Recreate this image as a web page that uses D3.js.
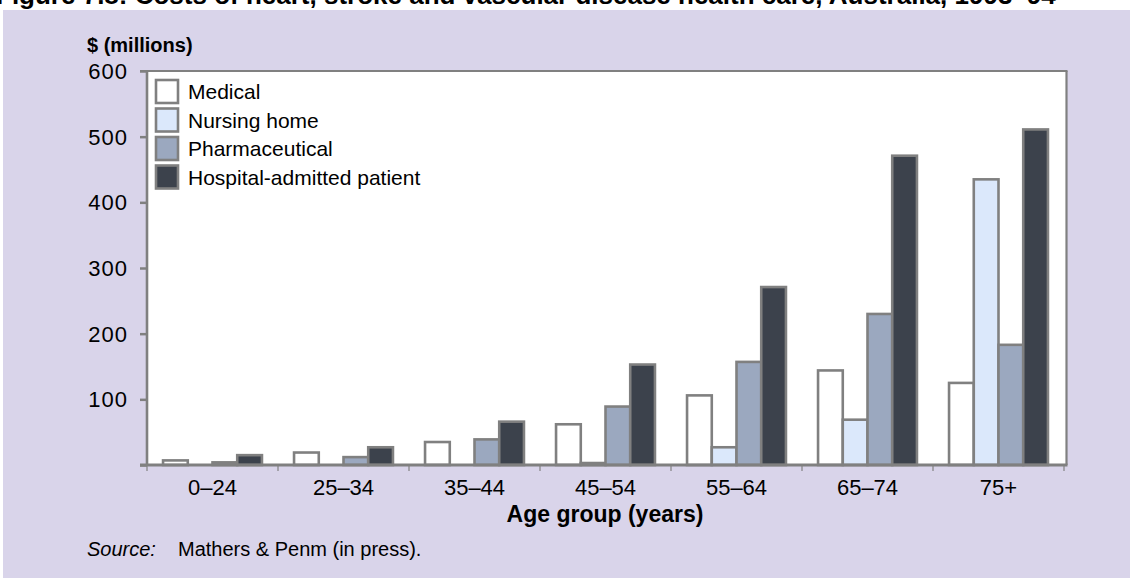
<!DOCTYPE html>
<html>
<head>
<meta charset="utf-8">
<script src="https://cdn.jsdelivr.net/npm/d3@7/dist/d3.min.js"></script>
<style>
  html, body { margin: 0; padding: 0; background: #ffffff; }
  svg { display: block; }
  text { font-family: "Liberation Sans", Arial, Helvetica, sans-serif; fill: #000; }
</style>
</head>
<body>
<svg id="chart" width="1130" height="578"></svg>
<script>
const categories = ["0–24", "25–34", "35–44", "45–54", "55–64", "65–74", "75+"];
const seriesNames = ["Medical", "Nursing home", "Pharmaceutical", "Hospital-admitted patient"];
const medical  = [7, 19, 35, 62, 106, 144, 125];
const nursing  = [0, 0, 0, 3, 27, 69, 435];
const pharma   = [4, 12, 39, 89, 157, 230, 183];
const hospital = [15, 27, 66, 153, 271, 471, 511];
const yTicks = [100, 200, 300, 400, 500, 600];

const seriesValues = [medical, nursing, pharma, hospital];
const colors = ["#ffffff", "#dbe8fb", "#9ba8bf", "#3c424c"];
const strokeCol = "#808080";

const svg = d3.select("#chart");

// title (cut off at top of picture, as in the reference)
svg.append("text")
  .attr("x", -4).attr("y", 3.5)
  .style("font-weight", "bold").style("font-size", "26px")
  .text("Figure 7.8: Costs of heart, stroke and vascular disease health care, Australia, 1993–94");

// lavender panel
svg.append("rect").attr("x", 3).attr("y", 10).attr("width", 1127).attr("height", 568).attr("fill", "#d9d4ea");

const L = 147, R = 1064, T = 71, B = 465, RB = 1066.5;

const x0 = d3.scaleBand().domain(categories).range([L, R]).paddingInner(0.245).paddingOuter(0.1225);
const x1 = d3.scaleBand().domain(d3.range(4)).range([0, x0.bandwidth()]);
const y = d3.scaleLinear().domain([0, 600]).range([B, T]);

// plot area
svg.append("rect").attr("x", L).attr("y", T).attr("width", RB - L).attr("height", B - T).attr("fill", "#ffffff");

// bars
const g = svg.append("g");
categories.forEach((c, i) => {
  seriesValues.forEach((vals, s) => {
    g.append("rect")
      .attr("x", x0(c) + x1(s))
      .attr("y", y(vals[i]))
      .attr("width", x1.bandwidth())
      .attr("height", B - y(vals[i]))
      .attr("fill", colors[s])
      .attr("stroke", strokeCol)
      .attr("stroke-width", 2.6);
  });
});

// y axis
const yAxis = d3.axisLeft(y).tickValues([0].concat(yTicks)).tickSize(7).tickPadding(12)
  .tickFormat(d => d === 0 ? "" : d);
const ya = svg.append("g").attr("transform", `translate(${L},0)`).call(yAxis);
ya.select(".domain").remove();
ya.selectAll(".tick line").attr("stroke", strokeCol).attr("stroke-width", 2.5);
ya.selectAll(".tick text").style("font-size", "22px").style("letter-spacing", "1px").attr("fill", "#000").attr("dy", "0.34em");

// x axis ticks at category boundaries
const step = x0.step();
const bounds = d3.range(categories.length + 1).map(i => x0(categories[0]) - x0.paddingInner() * step / 2 + i * step);
svg.append("g").selectAll("line").data(bounds).join("line")
  .attr("x1", d => d).attr("x2", d => d).attr("y1", B).attr("y2", B + 6)
  .attr("stroke", strokeCol).attr("stroke-width", 1.2);

// frame lines
svg.append("line").attr("x1", L).attr("x2", L).attr("y1", T).attr("y2", B).attr("stroke", strokeCol).attr("stroke-width", 2.6);
svg.append("line").attr("x1", 140).attr("x2", RB + 1).attr("y1", T).attr("y2", T).attr("stroke", strokeCol).attr("stroke-width", 2.2);
svg.append("line").attr("x1", RB).attr("x2", RB).attr("y1", T).attr("y2", B).attr("stroke", strokeCol).attr("stroke-width", 2.2);
svg.append("line").attr("x1", 140).attr("x2", RB + 1).attr("y1", B).attr("y2", B).attr("stroke", strokeCol).attr("stroke-width", 2.8);

// x labels
svg.append("g").selectAll("text").data(categories).join("text")
  .attr("x", d => x0(d) + x0.bandwidth() / 2)
  .attr("y", 495)
  .attr("text-anchor", "middle")
  .style("font-size", "22px")
  .text(d => d);

svg.append("text").attr("x", 605).attr("y", 522).attr("text-anchor", "middle")
  .style("font-weight", "bold").style("font-size", "23px").text("Age group (years)");

svg.append("text").attr("x", 87).attr("y", 52)
  .style("font-weight", "bold").style("font-size", "20px").text("$ (millions)");

// legend
const leg = svg.append("g");
seriesNames.forEach((n, s) => {
  const yy = 80 + s * 28.5;
  leg.append("rect").attr("x", 156).attr("y", yy).attr("width", 22).attr("height", 23)
    .attr("fill", colors[s]).attr("stroke", strokeCol).attr("stroke-width", 2.6);
  leg.append("text").attr("x", 188).attr("y", yy + 19).style("font-size", "21px").text(n);
});

// source
svg.append("text").attr("x", 87).attr("y", 556).style("font-style", "italic").style("font-size", "20px").text("Source:");
svg.append("text").attr("x", 178).attr("y", 556).style("font-size", "20px").text("Mathers & Penm (in press).");
</script>
</body>
</html>
